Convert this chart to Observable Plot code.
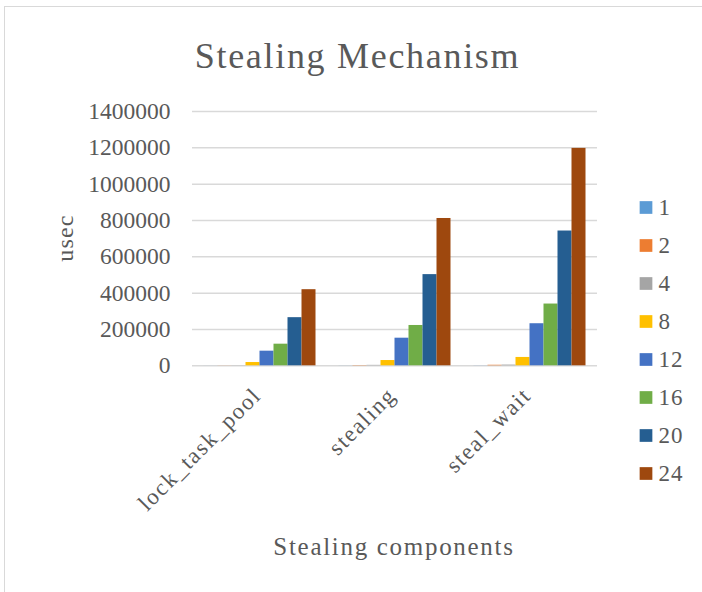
<!DOCTYPE html>
<html>
<head>
<meta charset="utf-8">
<script src="https://cdn.jsdelivr.net/npm/d3@7"></script>
<script src="https://cdn.jsdelivr.net/npm/@observablehq/plot@0.6"></script>
<style>
  html, body { margin: 0; padding: 0; background: #fff; overflow: hidden; }
  #chart { position: relative; width: 702px; height: 592px; font-family: "Liberation Serif", serif; color: #595959; }
  #frame { position: absolute; left: 4px; top: 6px; width: 800px; height: 700px; border: 1.5px solid #d9d9d9; box-sizing: border-box; }
  #main, #legend { position: absolute; left: 0; top: 0; }
  .t { position: absolute; white-space: nowrap; line-height: 1; }
  #title { left: 0; width: 715px; text-align: center; top: 38px; font-size: 36px; letter-spacing: 1.7px; }
  #xlabel { left: 0; width: 788px; text-align: center; top: 534px; font-size: 25px; letter-spacing: 1.7px; }
  #ylabel { left: 65px; top: 238px; font-size: 24px; letter-spacing: 1.2px; transform: translate(-50%, -50%) rotate(-90deg); }
  svg text { font-family: "Liberation Serif", serif !important; }
</style>
</head>
<body>
<div id="chart">
  <div id="frame"></div>
  <div id="main"></div>
  <div id="legend"></div>
  <div class="t" id="title">Stealing Mechanism</div>
  <div class="t" id="xlabel">Stealing components</div>
  <div class="t" id="ylabel">usec</div>
</div>
<script>
// Components measured and thread counts (one series per count)
const categories = ["lock_task_pool", "stealing", "steal_wait"];
const threads = ["1", "2", "4", "8", "12", "16", "20", "24"];
const colors = ["#5B9BD5", "#ED7D31", "#A5A5A5", "#FFC000", "#4472C4", "#70AD47", "#255E91", "#9E480E"];
const yTicks = [0, 200000, 400000, 600000, 800000, 1000000, 1200000, 1400000];

// usec per component, one array per thread count
const t1 = [200, 300, 500];
const t2 = [500, 1500, 3000];
const t4 = [800, 2500, 4000];
const t8 = [18000, 29000, 46000];
const t12 = [80500, 152000, 231600];
const t16 = [119000, 222000, 340000];
const t20 = [265000, 502000, 742000];
const t24 = [419000, 811000, 1197000];
const seriesValues = [t1, t2, t4, t8, t12, t16, t20, t24];

const data = categories.flatMap((c, i) =>
  threads.map((t, j) => ({component: c, threads: t, usec: seriesValues[j][i]}))
);

const serif = '"Liberation Serif", serif';

const main = Plot.plot({
  width: 702,
  height: 592,
  marginLeft: 190.5,
  marginRight: 104,
  marginTop: 111,
  marginBottom: 226.7,
  style: {fontFamily: serif, fontSize: "23.5px", color: "#595959", background: "transparent", overflow: "visible"},
  fx: {domain: categories, padding: 0, label: null, axis: "bottom", tickRotate: -45, tickSize: 0, tickPadding: 23},
  x: {domain: threads, paddingInner: 0, paddingOuter: 0.75, axis: null},
  y: {domain: [0, 1400000], ticks: yTicks, tickSize: 0, tickPadding: 22, tickFormat: d => String(d), label: null},
  color: {domain: threads, range: colors},
  marks: [
    Plot.ruleY(yTicks, {stroke: "#d9d9d9", strokeWidth: 1.5}),
    Plot.barY(data, {fx: "component", x: "threads", y: "usec", fill: "threads"})
  ]
});
d3.select(main).selectAll("text").style("font-family", serif);
d3.select(main).selectAll('[aria-label="fx-axis tick label"] text, [aria-label="fx-axis"] text')
  .style("letter-spacing", "1.6px").style("font-size", "23px").attr("dx", "-4");
document.getElementById("main").appendChild(main);

// Legend: one square swatch and label per thread count
const legend = Plot.plot({
  width: 702,
  height: 592,
  margin: 0,
  style: {fontFamily: serif, fontSize: "23px", color: "#595959", background: "transparent"},
  x: {domain: [0, 1], range: [645.5, 700], axis: null},
  y: {type: "point", domain: threads, range: [185.5, 494.3], axis: null},
  color: {domain: threads, range: colors},
  marks: [
    Plot.dot(threads, {x: 0, y: d => d, fill: d => d, symbol: "square", r: 7.17}),
    Plot.text(threads, {x: 0, y: d => d, text: d => d, dx: 12.5, textAnchor: "start", fill: "#595959"})
  ]
});
d3.select(legend).selectAll("text").style("font-family", serif).style("letter-spacing", "1px");
document.getElementById("legend").appendChild(legend);
</script>
</body>
</html>
